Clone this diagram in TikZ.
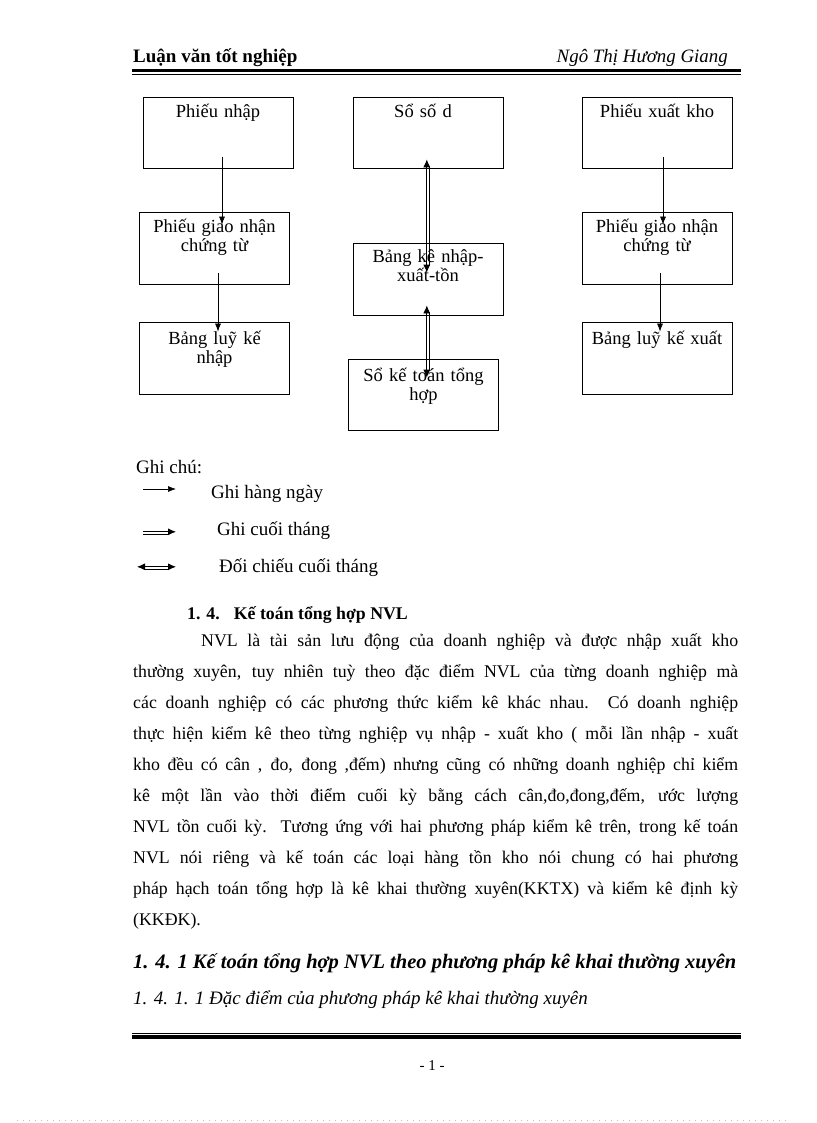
\documentclass[tikz,border=0pt]{standalone}
\usepackage{fontspec}
\setmainfont{Liberation Serif}
\usetikzlibrary{arrows.meta,calc}

\begin{document}
\begin{tikzpicture}[x=1pt,y=-1pt,
  box/.style={draw,line width=0.8pt,minimum width=150pt,minimum height=71pt,inner sep=0pt},
  boxtext/.style={anchor=base,text width=150pt,align=center,inner sep=0pt,font=\fontsize{18.5}{19}\selectfont},
  daily/.style={line width=0.7pt,-{Latex[length=8pt,width=6pt]}},
  monthly/.style={line width=0.8pt,-{Latex[length=8pt,width=7pt]}},
  check/.style={line width=0.8pt,{Latex[length=8pt,width=7pt]}-{Latex[length=8pt,width=7pt]}},
  pair/.style={line width=0.8pt},
  txt/.style={anchor=base west,inner sep=0pt,font=\fontsize{17.8}{31}\selectfont},
  legend/.style={txt,font=\fontsize{19}{22}\selectfont}]
\useasboundingbox (0,0) rectangle (816,1123);
% draw page header
\node[txt,font=\bfseries\fontsize{19}{22}\selectfont] (head) at (133,63) {Luận văn tốt nghiệp};
\node[anchor=base east,inner sep=0pt,font=\itshape\fontsize{18.9}{22}\selectfont] (name) at (728,63) {Ngô Thị Hương Giang};
\draw[line width=3pt] (132,70.5) -- (741,70.5);
\draw[line width=0.8pt] (132,74) -- (741,74);
% draw boxes
\node[box] (pn) at (218,132.5) {};
\node[box,minimum height=72pt] (gn1) at (214.5,248) {};
\node[box,minimum height=72pt] (lkn) at (214.5,358) {};
\node[box] (ssd) at (428,132.5) {};
\node[box,minimum height=72pt] (bk) at (428,279) {};
\node[box] (sktth) at (423.5,394.5) {};
\node[box] (px) at (657,132.5) {};
\node[box,minimum height=72pt] (gn2) at (657,248) {};
\node[box,minimum height=72pt] (lkx) at (657,358) {};
% draw box texts
\node[boxtext] (pnt) at ($(pn.north)+(0,21)$) {Phiếu nhập};
\node[boxtext] (gn1t) at ($(gn1.north)+(0,21)$) {Phiếu giao nhận\\chứng từ};
\node[boxtext] (lknt) at ($(lkn.north)+(0,23)$) {Bảng luỹ kế\\nhập};
\node[boxtext] (ssdt) at ($(ssd.north)+(-5,21)$) {Sổ số d};
\node[boxtext] (bkt) at ($(bk.north)+(0,20)$) {Bảng kê nhập-\\xuất-tồn};
\node[boxtext] (sktt) at ($(sktth.north)+(0,23)$) {Sổ kế toán tổng\\hợp};
\node[boxtext] (pxt) at ($(px.north)+(0,21)$) {Phiếu xuất kho};
\node[boxtext] (gn2t) at ($(gn2.north)+(0,21)$) {Phiếu giao nhận\\chứng từ};
\node[boxtext] (lkxt) at ($(lkx.north)+(0,23)$) {Bảng luỹ kế xuất};
% draw arrows
\draw[daily] ($(pn.south)+(4,-11)$) -- ($(gn1.north)+(7.5,13)$);
\draw[daily] ($(gn1.south)+(3.5,-11)$) -- ($(lkn.north)+(3.5,10)$);
\draw[daily] ($(px.south)+(6,-11)$) -- ($(gn2.north)+(6,13)$);
\draw[daily] ($(gn2.south)+(3,-11)$) -- ($(lkx.north)+(3,10)$);
\draw[check] ($(ssd.south)+(-1.2,-9)$) -- ($(bk.north)+(-1.2,30)$);
\draw[pair] ($(ssd.south)+(1.2,-2)$) -- ($(bk.north)+(1.2,23)$);
\draw[check] ($(bk.south)+(-1.2,-10)$) -- ($(sktth.north)+(3.3,19)$);
\draw[pair] ($(bk.south)+(1.2,-3)$) -- ($(sktth.north)+(5.7,12)$);
% draw legend
\node[legend] (gc) at (136,473) {Ghi chú:};
\coordinate (l1a) at (143,489);
\coordinate (l1b) at (176,489);
\coordinate (l2a) at (143,533);
\coordinate (l2b) at (176,533);
\coordinate (l3a) at (137,568);
\coordinate (l3b) at (176,568);
\draw[daily] (l1a) -- (l1b);
\draw[monthly] ($(l2a)+(0,-1.2)$) -- ($(l2b)+(0,-1.2)$);
\draw[pair] ($(l2a)+(0,1.2)$) -- ($(l2b)+(-7,1.2)$);
\draw[check] ($(l3a)+(0,-1.2)$) -- ($(l3b)+(0,-1.2)$);
\draw[pair] ($(l3a)+(7,1.2)$) -- ($(l3b)+(-7,1.2)$);
\node[legend] (l1) at (211,498) {Ghi hàng ngày};
\node[legend] (l2) at (217,535) {Ghi cuối tháng};
\node[legend] (l3) at (219,572) {Đối chiếu cuối tháng};
% draw text
\node[txt,font=\bfseries\fontsize{17.8}{31}\selectfont] (h14) at (187,619) {1. 4.\hspace{14pt}Kế toán tổng hợp NVL};
\node[txt,text width=605pt,align=justify] (body) at (133,646) {\tolerance=10000\hspace*{68pt}NVL là tài sản lưu động của doanh nghiệp và được nhập xuất kho\linebreak
thường xuyên, tuy nhiên tuỳ theo đặc điểm NVL của từng doanh nghiệp mà\linebreak
các doanh nghiệp có các phương thức kiểm kê khác nhau. Có doanh nghiệp\linebreak
thực hiện kiểm kê theo từng nghiệp vụ nhập - xuất kho ( mỗi lần nhập - xuất\linebreak
kho đều có cân , đo, đong ,đếm) nhưng cũng có những doanh nghiệp chỉ kiểm\linebreak
kê một lần vào thời điểm cuối kỳ bằng cách cân,đo,đong,đếm, ước lượng\linebreak
NVL tồn cuối kỳ. Tương ứng với hai phương pháp kiểm kê trên, trong kế toán\linebreak
NVL nói riêng và kế toán các loại hàng tồn kho nói chung có hai phương\linebreak
pháp hạch toán tổng hợp là kê khai thường xuyên(KKTX) và kiểm kê định kỳ\linebreak
(KKĐK).};
\node[txt,font=\bfseries\itshape\fontsize{20.5}{23}\selectfont] (h141) at (133,968) {1. 4. 1 Kế toán tổng hợp NVL theo phương pháp kê khai thường xuyên};
\node[txt,font=\itshape\fontsize{19}{22}\selectfont] (h1411) at (133,1004) {1. 4. 1. 1 Đặc điểm của phương pháp kê khai thường xuyên};
% draw page footer
\draw[line width=0.8pt] (132,1033.3) -- (741,1033.3);
\draw[line width=4pt] (132,1037) -- (741,1037);
\node[anchor=base,inner sep=0pt,font=\fontsize{15}{18}\selectfont] (pg) at (432,1070) {- 1 -};
\draw[gray!50,line width=0.5pt,dash pattern=on 1pt off 5pt] (17,1120) -- (790,1120);
\end{tikzpicture}
\end{document}
